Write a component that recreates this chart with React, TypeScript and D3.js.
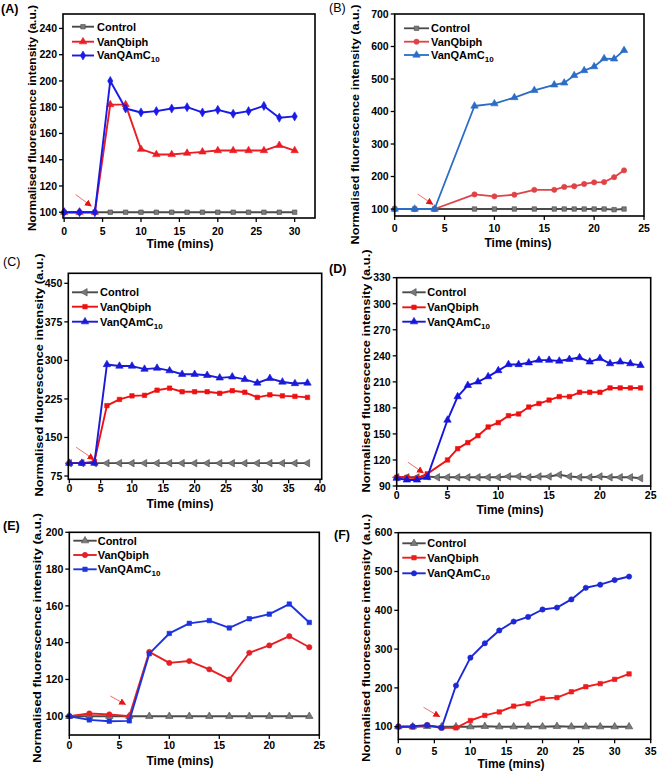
import React from 'react';
import * as d3 from 'd3';

// ---------- Panel A ----------
const aTime = [0, 2, 4, 6, 8, 10, 12, 14, 16, 18, 20, 22, 24, 26, 28, 30];
const aControl = [100, 100, 100, 100, 100, 100, 100, 100, 100, 100, 100, 100, 100, 100, 100, 100];
const aVanQbiph = [100, 100, 100, 182, 182, 148, 144, 144, 145, 146, 147, 147, 147, 147, 151, 147];
const aVanQAmC10 = [100, 100, 100, 200, 179, 176, 177, 179, 180, 176, 178, 175, 177, 181, 172, 173];
const aXTicks = [0, 5, 10, 15, 20, 25, 30];
const aYTicks = [100, 120, 140, 160, 180, 200, 220, 240];

// ---------- Panel B ----------
const bTime = [0, 2, 4, 8, 10, 12, 14, 16, 17, 18, 19, 20, 21, 22, 23];
const bControl = [100, 100, 100, 100, 100, 100, 100, 100, 100, 100, 100, 100, 100, 98, 100];
const bVanQbiph = [100, 100, 100, 145, 139, 144, 159, 159, 168, 170, 177, 182, 183, 198, 219];
const bVanQAmC10 = [100, 100, 100, 417, 424, 443, 465, 482, 488, 511, 526, 538, 563, 562, 588];
const bXTicks = [0, 5, 10, 15, 20, 25];
const bYTicks = [100, 200, 300, 400, 500, 600, 700];

// ---------- Panel C ----------
const cTime = [0, 2, 4, 6, 8, 10, 12, 14, 16, 18, 20, 22, 24, 26, 28, 30, 32, 34, 36, 38];
const cControl = [100, 100, 100, 100, 100, 100, 100, 100, 100, 100, 100, 100, 100, 100, 100, 100, 100, 100, 100, 100];
const cVanQbiph = [100, 100, 103, 212, 224, 231, 232, 242, 246, 239, 239, 239, 236, 241, 238, 228, 233, 231, 230, 228];
const cVanQAmC10 = [100, 100, 100, 292, 289, 289, 283, 285, 280, 273, 273, 271, 266, 268, 263, 256, 265, 258, 255, 256];
const cXTicks = [0, 5, 10, 15, 20, 25, 30, 35, 40];
const cYTicks = [75, 150, 225, 300, 375, 450];

// ---------- Panel D ----------
const dTime = [0, 1, 2, 3, 4, 5, 6, 7, 8, 9, 10, 11, 12, 13, 14, 15, 16, 17, 18, 19, 20, 21, 22, 23, 24];
const dControl = [100, 100, 100, 101, 100, 100, 100, 100, 100, 100, 100, 101, 101, 100, 101, 101, 103, 101, 100, 100, 101, 100, 100, 100, 99];
const dVanQbiph = [100, 100, 99, 104, null, 120, 133, 140, 148, 158, 163, 171, 173, 181, 185, 189, 193, 193, 198, 198, 198, 203, 203, 203, 203];
const dVanQAmC10 = [99, 97, 97, 100, null, 166, 193, 206, 210, 216, 223, 230, 230, 232, 235, 235, 234, 236, 238, 233, 237, 231, 233, 231, 229];
const dXTicks = [0, 5, 10, 15, 20, 25];
const dYTicks = [90, 120, 150, 180, 210, 240, 270, 300, 330];

// ---------- Panel E ----------
const eTime = [0, 2, 4, 6, 8, 10, 12, 14, 16, 18, 20, 22, 24];
const eControl = [100, 100, 100, 100, 100, 100, 100, 100, 100, 100, 100, 100, 100];
const eVanQbiph = [100, 101.5, 101, 100, 135, 129, 130, 125.5, 120, 134.5, 138.5, 143.5, 137.5];
const eVanQAmC10 = [100, 98, 97.3, 97.5, 134, 145, 150.5, 152, 148, 153, 155.5, 161, 151];
const eXTicks = [0, 5, 10, 15, 20, 25];
const eYTicks = [100, 120, 140, 160, 180, 200];

// ---------- Panel F ----------
const fTime = [0, 2, 4, 6, 8, 10, 12, 14, 16, 18, 20, 22, 24, 26, 28, 30, 32];
const fControl = [100, 100, 101, 100, 100, 100, 101, 100, 100, 100, 100, 101, 100, 100, 100, 100, 100];
const fVanQbiph = [100, 99, 104, 97, 97, 116, 129, 138, 153, 159, 173, 175, 190, 203, 211, 222, 236];
const fVanQAmC10 = [100, 101, 104, 97, 206, 278, 315, 348, 371, 383, 402, 407, 428, 458, 466, 478, 487];
const fXTicks = [0, 5, 10, 15, 20, 25, 30, 35];
const fYTicks = [100, 200, 300, 400, 500, 600];

const seriesNames = ['Control', 'VanQbiph', 'VanQAmC10'];

type Marker = 'square' | 'triangle' | 'ltriangle' | 'diamond' | 'circle';

interface Series {
  name: string;
  time: number[];
  values: (number | null)[];
  color: string;
  mfill: string;
  marker: Marker;
}

interface PanelCfg {
  label: string;
  labelBold: boolean;
  labelX: number;
  labelY: number;
  frame: { l: number; r: number; t: number; b: number };
  xDomain: [number, number];
  yDomain: [number, number];
  xTicks: number[];
  yTicks: number[];
  series: Series[];
  legend: { x1: number; x2: number; tx: number; ys: number[]; names: string[] };
  arrow: { from: [number, number]; to: [number, number] };
  yTitle: { cx: number; cy: number; len: number };
  xTitle: { cx: number; y: number };
  xLabelDy: number;
  lineWidth: number;
}

const GRAY = '#4a4a4a';
const GRAYM = '#7a7a7a';

function symPath(m: Marker, size: number) {
  const t =
    m === 'square' ? d3.symbolSquare :
    m === 'diamond' ? d3.symbolDiamond :
    m === 'circle' ? d3.symbolCircle : d3.symbolTriangle;
  return d3.symbol().type(t).size(size)() as string;
}

function MarkerShape({ m, x, y, fill, stroke }: { m: Marker; x: number; y: number; fill: string; stroke: string }) {
  const size = m === 'circle' ? 22 : m === 'diamond' ? 24 : m === 'square' ? 20 : 24;
  const rot = m === 'ltriangle' ? ' rotate(-90)' : '';
  return <path d={symPath(m, size)} transform={`translate(${x},${y})${rot}`} fill={fill} stroke={stroke} strokeWidth={0.6} />;
}

const FONT = '"Liberation Sans", Arial, Helvetica, sans-serif';

function Panel({ cfg }: { cfg: PanelCfg }) {
  const { frame } = cfg;
  const x = d3.scaleLinear().domain(cfg.xDomain).range([frame.l, frame.r]);
  const y = d3.scaleLinear().domain(cfg.yDomain).range([frame.b, frame.t]);
  const line = d3
    .line<[number, number]>()
    .x((d) => x(d[0]))
    .y((d) => y(d[1]));

  return (
    <g>
      <text x={cfg.labelX} y={cfg.labelY} fontFamily={FONT} fontSize={12.5} fontWeight={cfg.labelBold ? 'bold' : 'normal'} fill="#000">
        {cfg.label}
      </text>

      {cfg.series.map((s, i) => {
        const pts = s.time
          .map((t, k) => [t, s.values[k]] as [number, number | null])
          .filter((p) => p[1] !== null) as [number, number][];
        return (
          <g key={i}>
            <path d={line(pts) as string} fill="none" stroke={s.color} strokeWidth={cfg.lineWidth} strokeLinejoin="round" />
            {pts.map((p, k) => (
              <MarkerShape key={k} m={s.marker} x={x(p[0])} y={y(p[1])} fill={s.mfill} stroke={s.color} />
            ))}
          </g>
        );
      })}

      <line
        x1={x(cfg.arrow.from[0])}
        y1={y(cfg.arrow.from[1])}
        x2={x(cfg.arrow.to[0])}
        y2={y(cfg.arrow.to[1])}
        stroke="#e8484a"
        strokeWidth={0.8}
        markerEnd="url(#arrowhead)"
      />

      <rect x={frame.l} y={frame.t} width={frame.r - frame.l} height={frame.b - frame.t} fill="none" stroke="#000" strokeWidth={1.6} />

      {cfg.xTicks.map((t) => (
        <g key={'x' + t}>
          <line x1={x(t)} x2={x(t)} y1={frame.b} y2={frame.b + 4} stroke="#000" strokeWidth={1.3} />
          <text x={x(t)} y={frame.b + cfg.xLabelDy} textAnchor="middle" fontFamily={FONT} fontWeight="bold" fontSize={10.5} fill="#000">
            {t}
          </text>
        </g>
      ))}
      {cfg.yTicks.map((t) => (
        <g key={'y' + t}>
          <line x1={frame.l - 4} x2={frame.l} y1={y(t)} y2={y(t)} stroke="#000" strokeWidth={1.3} />
          <text x={frame.l - 6} y={y(t)} dy="0.36em" textAnchor="end" fontFamily={FONT} fontWeight="bold" fontSize={10.5} fill="#000">
            {t}
          </text>
        </g>
      ))}

      <text
        transform={`translate(${cfg.yTitle.cx},${cfg.yTitle.cy}) rotate(-90)`}
        dy="0.36em"
        textAnchor="middle"
        fontFamily={FONT}
        fontWeight="bold"
        fontSize={11.8}
        textLength={cfg.yTitle.len}
        lengthAdjust="spacingAndGlyphs"
        fill="#000"
      >
        Normalised fluorescence intensity (a.u.)
      </text>
      <text x={cfg.xTitle.cx} y={cfg.xTitle.y} textAnchor="middle" fontFamily={FONT} fontWeight="bold" fontSize={12} fill="#000">
        Time (mins)
      </text>

      {cfg.series.map((s, i) => {
        const ly = cfg.legend.ys[i];
        const nm = cfg.legend.names[i];
        return (
          <g key={'lg' + i}>
            <line x1={cfg.legend.x1} x2={cfg.legend.x2} y1={ly} y2={ly} stroke={s.color} strokeWidth={cfg.lineWidth} />
            <MarkerShape m={s.marker} x={(cfg.legend.x1 + cfg.legend.x2) / 2} y={ly} fill={s.mfill} stroke={s.color} />
            <text x={cfg.legend.tx} y={ly} dy="0.36em" fontFamily={FONT} fontWeight="bold" fontSize={11} fill="#000">
              {nm.endsWith('C10') ? (
                <>
                  {nm.slice(0, nm.length - 2)}
                  <tspan fontSize={8} dy={3}>
                    10
                  </tspan>
                </>
              ) : (
                nm
              )}
            </text>
          </g>
        );
      })}
    </g>
  );
}

const mk = (
  time: number[],
  vals: (number | null)[][],
  red: string,
  blue: string,
  markers: Marker[]
): Series[] => [
  { name: seriesNames[0], time, values: vals[0], color: GRAY, mfill: GRAYM, marker: markers[0] },
  { name: seriesNames[1], time, values: vals[1], color: red, mfill: red, marker: markers[1] },
  { name: seriesNames[2], time, values: vals[2], color: blue, mfill: blue, marker: markers[2] },
];

const panels: PanelCfg[] = [
  {
    label: '(A)', labelBold: true, labelX: 1, labelY: 13,
    frame: { l: 63, r: 315, t: 14, b: 218 },
    xDomain: [-0.15, 32.65], yDomain: [95.6, 251],
    xTicks: aXTicks, yTicks: aYTicks,
    series: mk(aTime, [aControl, aVanQbiph, aVanQAmC10], '#ec1c24', '#1a1ae6', ['square', 'triangle', 'diamond']),
    legend: { x1: 72, x2: 94, tx: 97, ys: [26.7, 41.7, 55.5], names: seriesNames },
    arrow: { from: [1.5, 113.5], to: [3.5, 104.8] },
    yTitle: { cx: 32, cy: 118, len: 226 },
    xTitle: { cx: 180, y: 248 },
    xLabelDy: 16.5, lineWidth: 1.9,
  },
  {
    label: '(B)', labelBold: false, labelX: 329, labelY: 11.5,
    frame: { l: 394.7, r: 644, t: 14, b: 216 },
    xDomain: [0, 25], yDomain: [78.5, 700],
    xTicks: bXTicks, yTicks: bYTicks,
    series: mk(bTime, [bControl, bVanQbiph, bVanQAmC10], '#e04347', '#2a6dc6', ['square', 'circle', 'triangle']),
    legend: { x1: 404, x2: 429, tx: 431, ys: [28.3, 41.7, 55], names: seriesNames },
    arrow: { from: [2.3, 146], to: [3.8, 115] },
    yTitle: { cx: 354.5, cy: 124.5, len: 240 },
    xTitle: { cx: 518, y: 246.5 },
    xLabelDy: 15.5, lineWidth: 1.8,
  },
  {
    label: '(C)', labelBold: false, labelX: 3, labelY: 266,
    frame: { l: 68.3, r: 321.7, t: 273.3, b: 479.3 },
    xDomain: [-0.16, 40.27], yDomain: [68.6, 469.5],
    xTicks: cXTicks, yTicks: cYTicks,
    series: mk(cTime, [cControl, cVanQbiph, cVanQAmC10], '#ee1111', '#1a1ad8', ['ltriangle', 'square', 'triangle']),
    legend: { x1: 72, x2: 98, tx: 100, ys: [292.3, 306.7, 321.7], names: ['Control', ' VanQbiph', 'VanQAmC10'] },
    arrow: { from: [1.1, 131], to: [3.9, 107.5] },
    yTitle: { cx: 39, cy: 375, len: 243 },
    xTitle: { cx: 180, y: 508 },
    xLabelDy: 12.5, lineWidth: 1.9,
  },
  {
    label: '(D)', labelBold: true, labelX: 329, labelY: 273,
    frame: { l: 396.7, r: 650.7, t: 277.7, b: 486 },
    xDomain: [0, 25], yDomain: [90, 330],
    xTicks: dXTicks, yTicks: dYTicks,
    series: mk(dTime, [dControl, dVanQbiph, dVanQAmC10], '#ee1111', '#1515dc', ['ltriangle', 'square', 'triangle']),
    legend: { x1: 402.3, x2: 425.7, tx: 427.3, ys: [292.3, 307.3, 321.7], names: seriesNames },
    arrow: { from: [1.1, 117.4], to: [2.6, 105.4] },
    yTitle: { cx: 366, cy: 371, len: 243 },
    xTitle: { cx: 510, y: 514 },
    xLabelDy: 12.5, lineWidth: 1.9,
  },
  {
    label: '(E)', labelBold: true, labelX: 3, labelY: 530,
    frame: { l: 69.3, r: 319.3, t: 532.3, b: 735 },
    xDomain: [0, 25], yDomain: [89.8, 200],
    xTicks: eXTicks, yTicks: eYTicks,
    series: mk(eTime, [eControl, eVanQbiph, eVanQAmC10], '#e61e25', '#1c34e0', ['triangle', 'circle', 'square']),
    legend: { x1: 73.3, x2: 96.7, tx: 97.7, ys: [540.7, 555, 569.3], names: seriesNames },
    arrow: { from: [4.1, 111], to: [5.6, 106.5] },
    yTitle: { cx: 37, cy: 638, len: 250 },
    xTitle: { cx: 180, y: 765 },
    xLabelDy: 13.5, lineWidth: 1.9,
  },
  {
    label: '(F)', labelBold: true, labelX: 334, labelY: 539,
    frame: { l: 398.3, r: 650.7, t: 532.7, b: 739.3 },
    xDomain: [0, 35], yDomain: [67.5, 600],
    xTicks: fXTicks, yTicks: fYTicks,
    series: mk(fTime, [fControl, fVanQbiph, fVanQAmC10], '#ee1c1c', '#1c28d6', ['triangle', 'square', 'circle']),
    legend: { x1: 402.3, x2: 425.7, tx: 427.3, ys: [543.3, 557.7, 573.3], names: seriesNames },
    arrow: { from: [3.5, 150], to: [5.7, 126] },
    yTitle: { cx: 366, cy: 638, len: 248 },
    xTitle: { cx: 511, y: 768 },
    xLabelDy: 15.5, lineWidth: 1.9,
  },
];

export default function App() {
  return (
    <div style={{ position: 'absolute', left: 0, top: 0 }}>
      <svg width={659} height={773} style={{ display: 'block', background: '#fff' }}>
        <defs>
          <marker id="arrowhead" markerUnits="userSpaceOnUse" markerWidth={8} markerHeight={8} refX={6} refY={3.5} orient="auto">
            <path d="M0,0 L7,3.5 L0,7 z" fill="#e81414" />
          </marker>
        </defs>
        <rect x={0} y={0} width={659} height={773} fill="#fff" />
        {panels.map((p, i) => (
          <Panel key={i} cfg={p} />
        ))}
      </svg>
    </div>
  );
}
